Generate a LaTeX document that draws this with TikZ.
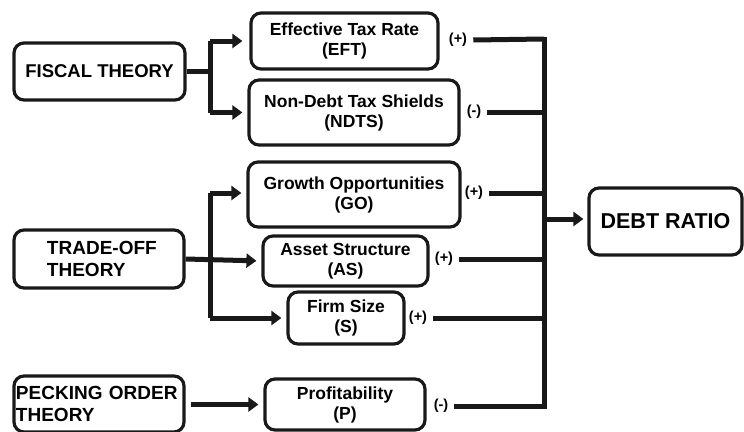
\documentclass[tikz,border=0pt]{standalone}
\usepackage{fontspec}
\setmainfont{Liberation Sans}
\usetikzlibrary{arrows.meta}
\tikzset{
  box/.style={draw=black!90, line width=3.2pt, rounded corners=10pt, align=center, inner sep=0pt, font=\bfseries\fontsize{17.5}{20}\selectfont},
  theory/.style={box, font=\bfseries\fontsize{19}{22}\selectfont},
  conn/.style={line width=5pt, black!90},
  arr/.style={conn, -{Triangle[length=10pt,width=14pt]}},
  sign/.style={font=\bfseries\fontsize{14.5}{16}\selectfont, inner sep=0pt}
}
\begin{document}
\begin{tikzpicture}[x=1pt,y=-1pt]
\useasboundingbox (0,0) rectangle (744,431);
% left theory boxes
\node[theory, minimum width=171pt, minimum height=57pt, font=\bfseries\fontsize{18.5}{22}\selectfont] (fiscal) at (99.5,71.5) {FISCAL THEORY};
\node[theory, minimum width=170pt, minimum height=58pt, align=left, text width=166pt] (trade) at (99,259) {\hspace*{31pt}TRADE-OFF\\\hspace*{31pt}THEORY};
\node[theory, minimum width=170pt, minimum height=56pt, align=left, text width=166pt] (peck) at (99,404) {PECKING ORDER\\THEORY};
% middle boxes
\node[box, minimum width=187pt, minimum height=56pt] (eft) at (344.5,41) {Effective Tax Rate\\(EFT)};
\node[box, minimum width=210pt, minimum height=65pt] (ndts) at (354,112.5) {Non-Debt Tax Shields\\(NDTS)};
\node[box, minimum width=212pt, minimum height=65pt] (go) at (354,194.5) {Growth Opportunities\\(GO)};
\node[box, minimum width=165pt, minimum height=50pt] (as) at (345.5,261) {Asset Structure\\(AS)};
\node[box, minimum width=116pt, minimum height=52pt] (s) at (346,318) {Firm Size\\(S)};
\node[box, minimum width=160pt, minimum height=51pt] (p) at (345,404.5) {Profitability\\(P)};
% debt ratio
\node[box, minimum width=153pt, minimum height=67pt, font=\bfseries\fontsize{21.5}{24}\selectfont] (debt) at (665.5,221.5) {DEBT RATIO};
% sign labels
\node[sign] (left) at (458,40) {(+)};
\node[sign] (lndts) at (474,112) {(-)};
\node[sign] (lgo) at (474,193) {(+)};
\node[sign] (las) at (444,259) {(+)};
\node[sign] (ls) at (418,318) {(+)};
\node[sign] (lp) at (441,406) {(-)};
% junction coordinates
\coordinate (jf) at (210,71.5);
\coordinate (jf1) at (210,41);
\coordinate (jf2) at (210,112.5);
\coordinate (jt1) at (210,193);
\coordinate (jt2) at (210,318);
\coordinate (b1) at (544,39);
\coordinate (b2) at (544,112);
\coordinate (b3) at (544,193);
\coordinate (b4) at (544,259);
\coordinate (b5) at (544,318);
\coordinate (b6) at (544,406);
\coordinate (bd) at (544,219);
% fiscal connectors
\draw[conn] (fiscal.east) -- (jf);
\draw[conn] (jf2) -- (jf1);
\draw[arr, shorten >=7pt] (jf1) -- (eft.west);
\draw[arr, shorten >=5pt] (jf2) -- (ndts.west);
% trade-off connectors
\draw[conn] (jt1) -- (jt2);
\draw[arr, shorten >=5pt] (jt1) -- (jt1 -| go.west);
\draw[arr, shorten >=5pt] (trade.east) -- (as.west);
\draw[arr, shorten >=5pt] (jt2) -- (s.west);
% pecking
\draw[arr, shorten >=5pt, shorten <=5pt] (peck.east |- p.west) -- (p.west);
% bus
\draw[conn, line cap=rect] (b1) -- (b6);
\draw[conn] (left.east) ++(6pt,0) -- (b1);
\draw[conn] (lndts.east) ++(6pt,0) -- (b2);
\draw[conn] (lgo.east) ++(6pt,0) -- (b3);
\draw[conn] (las.east) ++(6pt,0) -- (b4);
\draw[conn] (ls.east) ++(6pt,0) -- (b5);
\draw[conn] (lp.east) ++(6pt,0) -- (b6);
\draw[arr, shorten >=4pt] (bd) -- (debt.west |- bd);
\end{tikzpicture}
\end{document}
